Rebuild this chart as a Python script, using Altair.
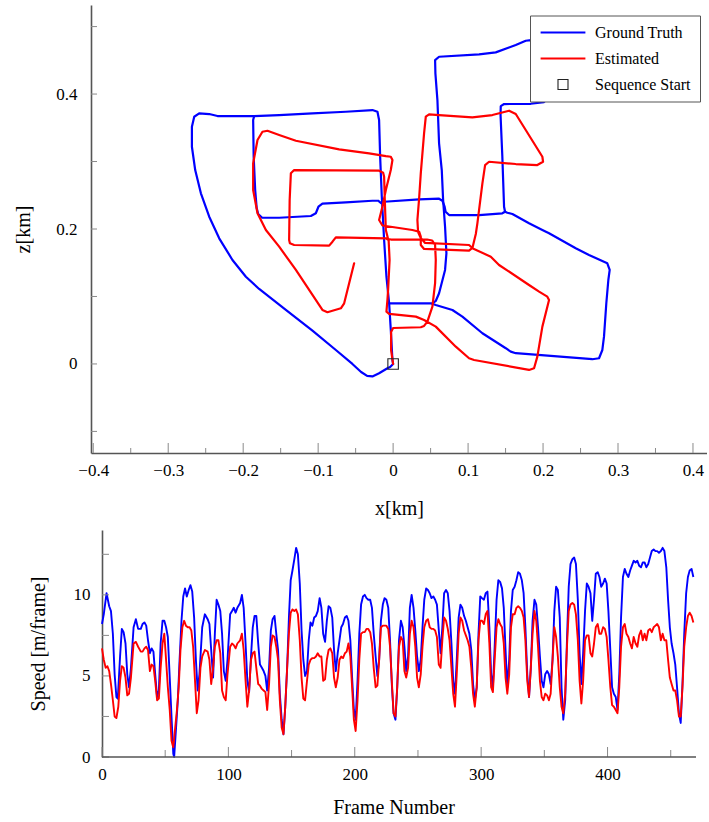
import altair as alt
import pandas as pd

# ---------------- trajectory data (km) ----------------
gt1_x = [0.0, -0.004, -0.0076, -0.0187, -0.0276, -0.0347, -0.0427, -0.0543, -0.0764, -0.1076,
         -0.1431, -0.1787, -0.1964, -0.2143, -0.232, -0.2453, -0.2564, -0.264, -0.2684, -0.2684,
         -0.2653, -0.2587, -0.2453, -0.2343, -0.1853, -0.152, -0.1076, -0.0631, -0.0276, -0.0209,
         -0.0187, -0.0173, -0.0151, -0.012, -0.0089, -0.0053, -0.0031, -0.0009, 0.0]
gt1_z = [0.0, -0.0044, -0.0064, -0.0138, -0.0185, -0.0178, -0.0119, 0.0, 0.0207, 0.0493,
         0.08, 0.1111, 0.1293, 0.1541, 0.1862, 0.2182, 0.2529, 0.2874, 0.3219, 0.3516,
         0.3664, 0.3714, 0.3704, 0.3674, 0.3674, 0.3689, 0.3714, 0.3738, 0.3763, 0.3738,
         0.3615, 0.3071, 0.2479, 0.1837, 0.1293, 0.0899, 0.0504, 0.0059, 0.0]

gt2_x = [-0.1853, -0.1867, -0.186, -0.184, -0.182, -0.18, -0.1747, -0.152, -0.1097, -0.1031,
         -0.0996, -0.0943, -0.0631, -0.0276, -0.02, -0.016, -0.012, 0.0347, 0.0613, 0.0657,
         0.0687, 0.07, 0.0747, 0.1147, 0.1457, 0.1493]
gt2_z = [0.3674, 0.3615, 0.3071, 0.2578, 0.2311, 0.2222, 0.2167, 0.2167, 0.2193, 0.2233,
         0.233, 0.2375, 0.2396, 0.2419, 0.2419, 0.2385, 0.2404, 0.244, 0.2449, 0.2419,
         0.233, 0.2256, 0.2207, 0.2207, 0.2233, 0.2256]

gt3_x = [0.1493, 0.148, 0.1457, 0.1433, 0.1436, 0.148, 0.1836, 0.2013, 0.2107, 0.2133,
         0.2053, 0.184, 0.1769, 0.1636, 0.1369, 0.1147, 0.0613, 0.056, 0.0564, 0.0591,
         0.0613, 0.0649, 0.0667, 0.0693, 0.0711, 0.0693, 0.0613, 0.0569, 0.0524]
gt3_z = [0.2256, 0.233, 0.3071, 0.3689, 0.3822, 0.3852, 0.3856, 0.3881, 0.3985, 0.4652,
         0.477, 0.48, 0.479, 0.4726, 0.4618, 0.4588, 0.4553, 0.4504, 0.4307, 0.3911,
         0.327, 0.2874, 0.243, 0.2034, 0.164, 0.1393, 0.1047, 0.0933, 0.0896]

gt4_x = [-0.0053, -0.0009, 0.0503, 0.0569, 0.0791, 0.0924, 0.1191, 0.1503, 0.1569, 0.1636,
         0.2657, 0.2747, 0.2791, 0.2813, 0.2844, 0.2871, 0.2889, 0.2857, 0.2613, 0.2436,
         0.208, 0.1991, 0.1813, 0.1591, 0.1524, 0.1493]
gt4_z = [0.0899, 0.0899, 0.0899, 0.0874, 0.08, 0.0701, 0.0455, 0.0233, 0.0182, 0.0159,
         0.007, 0.0084, 0.0207, 0.0404, 0.0899, 0.1244, 0.1393, 0.1492, 0.1615, 0.1714,
         0.1936, 0.1985, 0.2084, 0.2222, 0.2241, 0.2256]

est_x = [0.0, -0.0027, -0.0027, 0.0, 0.0369, 0.0413, 0.0457, 0.0524, 0.056, 0.0569,
         0.056, 0.052, 0.0453, -0.0027, -0.0067, -0.0097, -0.0111, -0.012, -0.0133, -0.0187,
         -0.132, -0.1364, -0.138, -0.1387, -0.1377, -0.132, -0.0853, -0.0809, -0.0764, -0.0097,
         -0.006, -0.0047, -0.0067, -0.0076, -0.0089, -0.0053, 0.0303, 0.0413, 0.0569, 0.0836,
         0.1013, 0.108, 0.1813, 0.188, 0.1924, 0.1991, 0.208, 0.2057, 0.1947, 0.1813,
         0.1413, 0.1303, 0.1057, 0.1103, 0.1124, 0.1191, 0.1227, 0.128, 0.1636, 0.1924,
         0.2, 0.1991, 0.1769, 0.1636, 0.1547, 0.1324, 0.1057, 0.0613, 0.048, 0.0436,
         0.0413, 0.0369, 0.0347, 0.0324, 0.0333, 0.0369, 0.0427, 0.1013, 0.1057, 0.1013,
         0.0413, 0.0369, 0.0369, 0.0347, 0.0257, -0.0143, -0.0187, -0.0143, -0.0097, -0.0031,
         -0.0009, -0.0031, -0.0097, -0.032, -0.072, -0.1297, -0.152, -0.1676, -0.1743, -0.1809,
         -0.1867, -0.1867, -0.1809, -0.1697, -0.152, -0.1297, -0.0943, -0.0876, -0.0697, -0.0653,
         -0.052]
est_z = [0.0, 0.0207, 0.0474, 0.0533, 0.0544, 0.0563, 0.0627, 0.0849, 0.1196, 0.1541,
         0.1763, 0.183, 0.1844, 0.1844, 0.1852, 0.1985, 0.243, 0.2775, 0.2834, 0.2864,
         0.2874, 0.2825, 0.243, 0.1837, 0.1788, 0.1763, 0.1753, 0.1812, 0.1877, 0.1862,
         0.1837, 0.1541, 0.1096, 0.0948, 0.0775, 0.0741, 0.0701, 0.0652, 0.0553, 0.0256,
         0.0084, 0.0059, -0.0089, -0.0064, 0.0108, 0.0553, 0.0948, 0.0997, 0.1071, 0.117,
         0.1467, 0.159, 0.1714, 0.1926, 0.2084, 0.2677, 0.2948, 0.2997, 0.2963, 0.2948,
         0.2997, 0.3071, 0.3467, 0.3704, 0.3753, 0.3689, 0.3655, 0.3689, 0.3699, 0.3664,
         0.3418, 0.2825, 0.2455, 0.2133, 0.1956, 0.1867, 0.1793, 0.1763, 0.1719, 0.1679,
         0.1704, 0.1763, 0.1886, 0.196, 0.1985, 0.2052, 0.2133, 0.233, 0.2578, 0.2874,
         0.3022, 0.3071, 0.3081, 0.3121, 0.3181, 0.3308, 0.3393, 0.3456, 0.3441, 0.3319,
         0.2973, 0.2578, 0.2233, 0.1985, 0.1738, 0.1393, 0.08, 0.0766, 0.0825, 0.0899,
         0.1492]

start_x = [0.0]
start_z = [0.0]

# ---------------- speed data (m/frame) ----------------
gt_frame_head = [0.0, 1.4, 3.6, 5.7, 7.1, 8.6, 10.0, 11.4, 12.5, 14.3, 15.7, 17.1, 18.6, 20.0,
                 21.4, 22.9, 25.0, 26.8, 28.6, 30.7, 32.1, 33.6, 35.0, 36.4, 37.9, 39.3, 40.7,
                 42.1, 43.6, 45.0, 46.4, 47.9, 49.3, 50.7, 52.1, 53.6, 55.0, 56.4, 57.1, 58.6,
                 60.0, 61.4, 62.9, 64.3, 65.7, 67.1, 68.6, 70.0, 71.4, 72.9, 74.3, 75.7, 77.1,
                 79.3, 81.4, 83.6, 85.0, 86.4, 87.9, 89.3, 90.7, 92.1, 93.6, 95.0, 96.4, 97.9,
                 99.3, 101.4, 102.9, 104.3, 105.7, 107.1, 109.3, 110.7, 112.1, 113.6, 115.0,
                 116.4, 117.9, 119.3, 120.7, 122.1]
gt_speed_head = [8.2, 8.8, 10.1, 9.3, 9.0, 7.6, 5.1, 3.7, 3.6, 6.2, 7.9, 7.7, 7.0, 5.1,
                 4.3, 5.5, 8.0, 8.5, 7.9, 7.9, 8.2, 8.3, 8.1, 7.2, 6.4, 6.7, 6.5,
                 5.1, 3.7, 4.1, 7.0, 8.4, 8.4, 8.0, 7.4, 4.9, 2.5, 0.2, 0.0, 1.8,
                 3.5, 6.0, 8.4, 9.9, 10.4, 9.9, 10.3, 10.6, 10.2, 8.6, 6.0, 4.1, 5.1,
                 8.0, 8.8, 8.5, 8.2, 6.6, 4.9, 7.6, 9.7, 9.4, 9.0, 7.6, 5.3, 4.7,
                 6.0, 8.8, 9.0, 9.2, 8.9, 9.2, 9.5, 10.0, 9.2, 7.0, 4.7,
                 4.0, 6.2, 8.0, 8.7, 8.7]

est_frame_head = [0.0, 1.4, 2.9, 4.3, 5.7, 7.1, 8.6, 10.0, 11.4, 12.9, 14.3, 15.7, 17.1, 18.6,
                  20.0, 21.4, 22.9, 25.0, 26.8, 28.6, 30.7, 32.1, 33.6, 35.0, 36.4, 37.9, 39.3,
                  40.7, 42.1, 43.6, 45.0, 46.4, 47.9, 49.3, 50.7, 52.1, 53.6, 55.0, 56.4, 57.9,
                  59.3, 60.7, 62.1, 63.6, 65.0, 66.4, 67.9, 69.3, 70.7, 72.1, 73.6, 75.0, 76.4,
                  77.9, 79.3, 81.4, 83.6, 85.0, 86.4, 87.9, 89.3, 90.7, 92.1, 93.6, 95.0, 96.4,
                  97.9, 99.3, 101.4, 102.9, 104.3, 105.7, 107.1, 109.3, 110.7, 112.1, 113.6,
                  115.0, 116.4, 117.9, 119.3, 120.7, 122.1]
est_speed_head = [6.7, 6.0, 5.5, 5.6, 5.3, 4.5, 3.5, 2.5, 2.4, 3.1, 4.7, 5.6, 5.5, 4.9,
                  3.8, 3.9, 4.9, 7.0, 7.1, 6.8, 6.5, 6.5, 6.7, 6.8, 6.6, 5.3, 5.7,
                  5.6, 4.7, 3.5, 3.6, 5.5, 7.0, 7.6, 6.0, 4.3, 2.9, 1.0, 0.6, 1.8,
                  2.9, 4.3, 6.6, 8.0, 8.4, 8.1, 8.0, 8.0, 7.8, 6.8, 4.7, 2.7, 3.5,
                  5.5, 6.2, 6.6, 6.5, 6.0, 4.5, 5.5, 6.8, 7.2, 7.2, 6.4, 4.1, 3.7,
                  3.5, 5.1, 6.8, 7.0, 6.9, 6.7, 7.0, 7.2, 7.6, 6.6, 4.7,
                  3.1, 4.1, 6.0, 6.4, 6.5, 5.5]

tail_frame = [
    123.6, 125.0, 126.5, 127.9, 129.3, 130.7, 132.2,
    133.6, 135.0, 136.5, 137.9, 139.3, 140.7, 142.2,
    143.6, 145.0, 146.5, 147.9, 149.3, 150.7, 152.2,
    153.6, 155.0, 156.5, 157.9, 159.3, 160.7, 162.2,
    163.6, 165.0, 166.5, 167.9, 169.3, 170.7, 172.2,
    173.6, 175.0, 176.5, 177.9, 179.3, 180.7, 182.2,
    183.6, 185.0, 186.5, 187.9, 189.3, 190.7, 192.2,
    193.6, 195.0, 196.5, 197.9, 199.3, 200.7, 202.2,
    203.6, 205.0, 206.5, 207.9, 209.3, 210.7, 212.2,
    213.6, 215.0, 216.5, 217.9, 219.3, 220.7, 222.2,
    223.6, 225.0, 226.5, 227.9, 229.3, 230.7, 232.2,
    233.6, 235.0, 236.5, 237.9, 239.3, 240.7, 242.2,
    243.6, 245.0, 246.5, 247.9, 249.3, 250.7, 252.2,
    253.6, 255.0, 256.5, 257.9, 259.3, 260.7, 262.2,
    263.6, 265.0, 266.5, 267.9, 269.3, 270.7, 272.2,
    273.6, 275.0, 276.5, 277.9, 279.3, 280.7, 282.2,
    283.6, 285.0, 286.5, 287.9, 289.3, 290.7, 292.2,
    293.6, 295.0, 296.5, 297.9, 299.3, 300.7, 302.2,
    303.6, 305.0, 306.5, 307.9, 309.3, 310.7, 312.2,
    313.6, 315.0, 316.5, 317.9, 319.3, 320.7, 322.2,
    323.6, 325.0, 326.5, 327.9, 329.3, 330.7, 332.2,
    333.6, 335.0, 336.5, 337.9, 339.3, 340.7, 342.2,
    343.6, 345.0, 346.5, 347.9, 349.3, 350.7, 352.2,
    353.6, 355.0, 356.5, 357.9, 359.3, 360.7, 362.2,
    363.6, 365.0, 366.5, 367.9, 369.3, 370.7, 372.2,
    373.6, 375.0, 376.5, 377.9, 379.3, 380.7, 382.2,
    383.6, 385.0, 386.5, 387.9, 389.3, 390.7, 392.2,
    393.6, 395.0, 396.5, 397.9, 399.3, 400.7, 402.2,
    403.6, 405.0, 406.5, 407.9, 409.3, 410.7, 412.2,
    413.6, 415.0, 416.5, 417.9, 419.3, 420.7, 422.2,
    423.6, 425.0, 426.5, 427.9, 429.3, 430.7, 432.2,
    433.6, 435.0, 436.5, 437.9, 439.3, 440.7, 442.2,
    443.6, 445.0, 446.5, 447.9, 449.3, 450.7, 452.2,
    453.6, 455.0, 456.5, 457.9, 459.3, 460.7, 462.2,
    463.6, 465.0, 466.5, 467.9]

gt_speed_tail = [
    7.0, 5.7, 5.5, 5.3, 5.0, 4.1, 5.5,
    7.8, 8.5, 8.7, 7.6, 6.6, 3.9, 2.3,
    1.4, 3.1, 5.5, 8.6, 10.9, 11.5, 12.2,
    12.9, 12.5, 10.7, 7.8, 6.0, 5.0, 5.3,
    7.2, 8.3, 8.1, 8.6, 8.7, 9.0, 9.8,
    9.2, 7.6, 7.1, 8.4, 9.3, 9.2, 8.6,
    6.6, 5.3, 6.4, 7.2, 8.0, 8.2, 8.6,
    8.7, 8.4, 7.2, 4.9, 2.9, 2.3, 4.7,
    7.6, 9.4, 9.9, 10.0, 9.8, 9.7, 9.7,
    9.2, 7.6, 6.2, 5.0, 6.0, 8.4, 9.4,
    9.8, 9.7, 9.2, 7.2, 4.5, 2.7, 2.3,
    4.3, 7.2, 8.4, 8.0, 6.8, 5.3, 6.2,
    9.2, 10.0, 9.2, 7.8, 6.2, 5.3, 6.0,
    8.0, 9.7, 10.4, 10.3, 10.1, 9.8, 9.9,
    9.7, 9.4, 7.8, 6.4, 8.0, 10.1, 10.3,
    10.1, 9.0, 7.0, 4.7, 3.9, 6.0, 8.6,
    9.4, 9.2, 8.7, 8.4, 8.0, 7.6, 6.6,
    4.5, 3.5, 4.3, 7.6, 9.9, 9.8, 9.7,
    10.1, 10.2, 8.0, 5.1, 4.3, 6.8, 9.7,
    10.9, 10.8, 10.4, 9.2, 6.6, 4.3, 6.0,
    9.0, 10.3, 10.5, 10.9, 11.4, 11.3, 10.9,
    10.1, 8.0, 5.1, 3.7, 5.5, 8.4, 9.7,
    9.4, 8.0, 6.2, 4.7, 4.3, 5.1, 5.3,
    5.1, 4.5, 6.0, 9.0, 10.5, 10.3, 8.6,
    4.3, 2.3, 3.5, 7.2, 10.5, 11.9, 12.2,
    12.3, 11.9, 9.7, 6.4, 4.5, 6.4, 9.0,
    10.7, 10.5, 10.1, 8.4, 9.7, 11.3, 11.4,
    11.1, 10.5, 10.7, 11.0, 10.7, 9.0, 6.6,
    4.3, 3.9, 3.7, 2.9, 5.1, 8.6, 11.1,
    11.6, 11.3, 11.1, 11.5, 11.8, 12.1, 12.0,
    12.1, 11.8, 11.7, 12.0, 12.0, 11.7, 11.9,
    12.3, 12.7, 12.8, 12.7, 12.7, 12.6, 12.7,
    12.9, 12.7, 11.7, 9.7, 8.0, 7.0, 6.4,
    5.7, 4.3, 2.7, 2.1, 4.5, 7.6, 10.1,
    11.1, 11.5, 11.6, 11.1]

est_speed_tail = [
    4.5, 4.4, 4.2, 4.1, 4.0, 2.9, 4.5,
    6.8, 7.5, 7.4, 6.8, 6.0, 3.5, 1.8,
    1.4, 3.1, 5.5, 7.6, 8.9, 9.1, 9.0,
    9.1, 8.8, 7.2, 4.9, 3.6, 3.5, 4.7,
    5.7, 6.0, 6.1, 6.1, 6.2, 6.4, 6.2,
    6.2, 4.7, 4.8, 6.0, 6.6, 6.7, 6.4,
    4.9, 4.3, 4.9, 6.0, 6.2, 6.1, 6.4,
    6.5, 7.0, 6.2, 4.3, 2.3, 1.6, 3.5,
    6.0, 7.6, 7.7, 7.7, 7.9, 7.9, 7.7,
    7.0, 5.5, 4.3, 4.4, 6.0, 8.0, 8.1,
    8.1, 8.1, 7.9, 6.8, 4.7, 2.7, 2.5,
    4.3, 6.8, 7.4, 7.2, 5.3, 4.9, 5.5,
    7.6, 8.4, 8.0, 6.8, 4.9, 4.3, 5.1,
    6.8, 8.0, 8.4, 8.5, 8.0, 7.9, 7.9,
    7.8, 7.4, 5.7, 5.5, 7.2, 8.6, 8.4,
    7.9, 7.2, 5.5, 3.9, 3.1, 5.1, 7.6,
    8.6, 8.4, 7.8, 7.5, 7.2, 6.8, 5.5,
    3.9, 3.1, 4.3, 7.2, 8.4, 8.4, 8.2,
    8.8, 9.0, 7.0, 4.3, 4.0, 6.0, 8.0,
    8.5, 8.2, 8.0, 7.0, 4.9, 3.9, 5.1,
    8.0, 8.8, 8.8, 9.2, 9.3, 9.2, 9.0,
    8.6, 7.2, 4.7, 3.7, 5.5, 7.6, 9.0,
    8.4, 6.8, 4.7, 3.7, 3.5, 3.9, 3.8,
    3.5, 3.9, 6.0, 8.0, 7.4, 6.2, 4.3,
    3.1, 2.7, 3.9, 6.8, 9.0, 9.4, 9.5,
    9.4, 8.8, 7.2, 4.7, 3.3, 4.7, 7.2,
    7.5, 7.5, 6.4, 6.2, 7.0, 8.0, 8.2,
    7.6, 7.6, 8.0, 7.9, 7.4, 6.0, 4.3,
    3.2, 3.1, 2.9, 2.7, 4.3, 6.8, 8.0,
    8.2, 7.6, 7.4, 7.0, 6.7, 7.4, 7.0,
    6.8, 7.5, 7.8, 7.2, 7.6, 7.2, 7.8,
    7.9, 7.7, 8.0, 8.1, 8.2, 8.0, 7.2,
    7.6, 7.2, 7.2, 6.0, 4.9, 4.5, 4.1,
    4.1, 3.5, 2.5, 2.5, 4.3, 6.8, 8.0,
    8.7, 8.9, 8.7, 8.3]

# ---------------- axis tick values ----------------
x_labels = [-0.4, -0.3, -0.2, -0.1, 0.0, 0.1, 0.2, 0.3, 0.4]
x_minor = [-0.35, -0.25, -0.15, -0.05, 0.05, 0.15, 0.25, 0.35]
z_ticks = [-0.1, 0.0, 0.1, 0.2, 0.3, 0.4, 0.5]
z_labels = [0.0, 0.2, 0.4]
f_labels = [0, 100, 200, 300, 400]
f_minor = [50, 150, 250, 350, 450]
f_axis_start = [0]
f_axis_end = [470]
s_ticks = [0, 2.5, 5, 7.5, 10, 12.5]
s_labels = [0, 5, 10]

series_names = ["Ground Truth", "Estimated", "Sequence Start"]
series_colors = ["#0000ff", "#ff0000", "#222222"]

# ---------------- build tables ----------------
gt_rows = []
for k, (xs_, zs_) in enumerate([(gt1_x, gt1_z), (gt2_x, gt2_z), (gt3_x, gt3_z), (gt4_x, gt4_z)]):
    for i, (a, b) in enumerate(zip(xs_, zs_)):
        gt_rows.append({"x": a, "z": b, "seg": "gt%d" % k, "idx": i, "series": "Ground Truth"})
gt_df = pd.DataFrame(gt_rows)
est_df = pd.DataFrame({"x": est_x, "z": est_z, "seg": "est", "idx": list(range(len(est_x))),
                       "series": "Estimated"})
start_df = pd.DataFrame({"x": start_x, "z": start_z, "series": ["Sequence Start"]})

gt_speed_df = pd.DataFrame({"frame": gt_frame_head + tail_frame,
                            "speed": gt_speed_head + gt_speed_tail})
est_speed_df = pd.DataFrame({"frame": est_frame_head + tail_frame,
                             "speed": est_speed_head + est_speed_tail})

FONT = "Liberation Serif"
TICK = "#8a8a8a"
AXIS = "#555555"

# ---------------- top panel ----------------
W1, H1 = 616, 448
xsc = alt.Scale(domain=[-0.403, 0.4187], nice=False, zero=False)
zsc = alt.Scale(domain=[-0.132, 0.532], nice=False, zero=False)
csc = alt.Scale(domain=series_names, range=series_colors)

legend = alt.Legend(
    title=None, orient="none", legendX=439, legendY=10.5,
    fillColor="white", strokeColor=AXIS, cornerRadius=0,
    padding=9, rowPadding=10,
    labelFont=FONT, labelFontSize=16, labelColor="black", labelOffset=24, labelLimit=300,
    symbolType={"expr": "datum.value === 'Sequence Start' ? 'M-0.625,-0.625H0.625V0.625H-0.625Z' : 'M-2.8,0H2.8'"},
    symbolSize=256, symbolOffset=16,
    symbolStrokeWidth={"expr": "datum.value === 'Sequence Start' ? 1.1 : 2.2"},
    symbolFillColor="transparent",
)

x_axis = alt.Axis(title="x[km]", values=x_labels, format="~g", labelPadding=9, titlePadding=20)
z_axis = alt.Axis(title="z[km]", values=z_labels, format="~g", labelPadding=14, titlePadding=22)
x_enc = alt.X("x:Q", scale=xsc, axis=x_axis)
z_enc = alt.Y("z:Q", scale=zsc, axis=z_axis)

gt_line = alt.Chart(gt_df).mark_line(strokeWidth=2.2, strokeJoin="round", strokeCap="round").encode(
    x=x_enc, y=z_enc,
    color=alt.Color("series:N", scale=csc, legend=legend),
    detail="seg:N", order="idx:Q")
est_line = alt.Chart(est_df).mark_line(strokeWidth=2.2, strokeJoin="round", strokeCap="round").encode(
    x=x_enc, y=z_enc,
    color=alt.Color("series:N", scale=csc, legend=legend),
    detail="seg:N", order="idx:Q")
start_pt = alt.Chart(start_df).mark_point(shape="square", filled=False, size=110,
                                          strokeWidth=1.1, opacity=1).encode(
    x=x_enc, y=z_enc, color=alt.Color("series:N", scale=csc, legend=legend))

xt_major = alt.Chart(pd.DataFrame({"x": x_labels})).mark_rule(color=TICK, strokeWidth=1).encode(
    x=x_enc, y=alt.value(H1), y2=alt.value(H1 - 10))
xt_minor = alt.Chart(pd.DataFrame({"x": x_minor})).mark_rule(color=TICK, strokeWidth=1).encode(
    x=x_enc, y=alt.value(H1), y2=alt.value(H1 - 5))
zt = alt.Chart(pd.DataFrame({"z": z_ticks})).mark_rule(color=TICK, strokeWidth=1).encode(
    y=z_enc, x=alt.value(0), x2=alt.value(6))
anchor_top = alt.Chart(pd.DataFrame({"t": ["."]})).mark_text(
    opacity=0, fontSize=1, align="left").encode(x=alt.value(-90.5), y=alt.value(200), text="t:N")

top = alt.layer(gt_line, est_line, start_pt, xt_major, xt_minor, zt, anchor_top).properties(
    width=W1, height=H1)

# ---------------- bottom panel ----------------
# plot area shares its left edge with the top panel; frame 0 sits 11 px to the right
W2, H2 = 605, 227
YOFF = 11
fsc = alt.Scale(domain=[-8.7, 470], nice=False, zero=False)
ssc = alt.Scale(domain=[0, 14], nice=False, zero=False)

f_enc = alt.X("frame:Q", scale=fsc,
              axis=alt.Axis(title="Frame Number", values=f_labels, labelPadding=9,
                            titlePadding=15, domain=False))
s_enc = alt.Y("speed:Q", scale=ssc,
              axis=alt.Axis(title="Speed [m/frame]", values=s_labels, labelPadding=12,
                            titlePadding=25, offset=-YOFF))

gt_sp = alt.Chart(gt_speed_df).mark_line(strokeWidth=1.9, color="#0000ff", strokeJoin="round").encode(
    x=f_enc, y=s_enc)
est_sp = alt.Chart(est_speed_df).mark_line(strokeWidth=1.9, color="#ff0000", strokeJoin="round").encode(
    x=f_enc, y=s_enc)
f_axis_line = alt.Chart(pd.DataFrame({"frame": f_axis_start, "frame_end": f_axis_end})).mark_rule(
    color=AXIS, strokeWidth=1.6).encode(x=f_enc, x2="frame_end:Q", y=alt.value(H2))
ft_major = alt.Chart(pd.DataFrame({"frame": f_labels})).mark_rule(color=TICK, strokeWidth=1).encode(
    x=f_enc, y=alt.value(H2), y2=alt.value(H2 - 10))
ft_minor = alt.Chart(pd.DataFrame({"frame": f_minor})).mark_rule(color=TICK, strokeWidth=1).encode(
    x=f_enc, y=alt.value(H2), y2=alt.value(H2 - 7))
st = alt.Chart(pd.DataFrame({"speed": s_ticks})).mark_rule(color=TICK, strokeWidth=1).encode(
    y=s_enc, x=alt.value(YOFF), x2=alt.value(YOFF + 7))

bottom = alt.layer(gt_sp, est_sp, ft_major, ft_minor, st, f_axis_line).properties(
    width=W2, height=H2)

chart = alt.vconcat(top, bottom, spacing=12).resolve_scale(
    x="independent", y="independent", color="independent"
).properties(
    padding={"left": 0, "top": 5, "right": 0, "bottom": 0}
).configure(
    font=FONT
).configure_axis(
    labelFont=FONT, titleFont=FONT, labelFontSize=17, titleFontSize=20,
    titleFontWeight="normal", labelColor="black", titleColor="black",
    grid=False, ticks=False, domainColor=AXIS, domainWidth=1.6,
    labelFlush=False, labelOverlap=False
).configure_view(stroke=None)

chart.save("out.html", embed_options={"renderer": "svg", "actions": False})
